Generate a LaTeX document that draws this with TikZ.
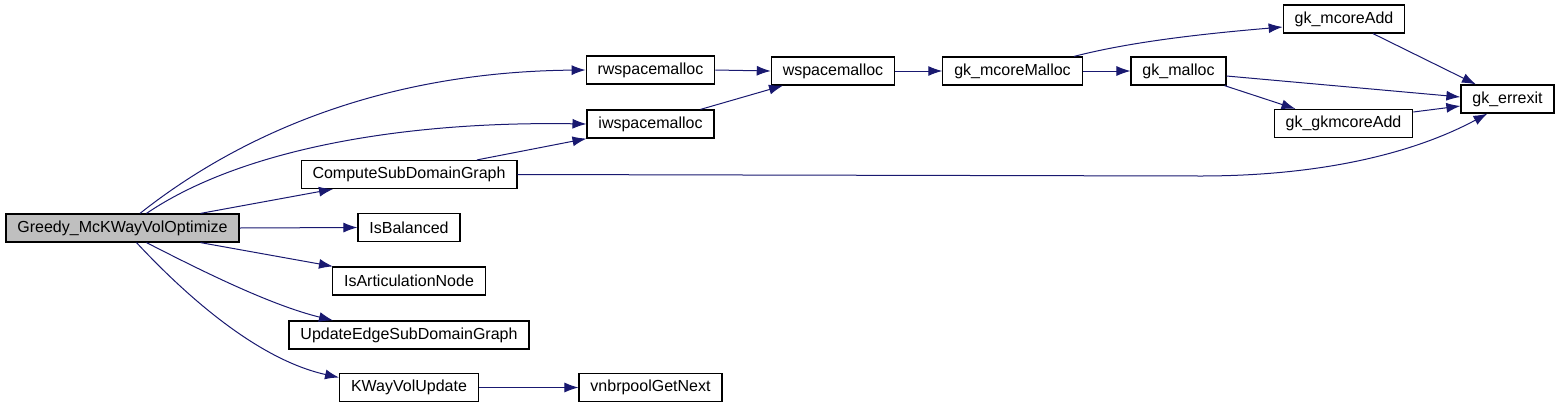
\documentclass[tikz,border=0pt]{standalone}
\usepackage{fontspec}
\setmainfont{Liberation Sans}
\usetikzlibrary{positioning,shapes,arrows.meta}
\definecolor{callblue}{RGB}{25,25,112}
\definecolor{rootgray}{RGB}{191,191,191}
\tikzstyle{func}=[draw,rectangle,line width=0.6pt,fill=white,minimum height=14pt,inner xsep=5.7pt,inner ysep=0pt,font=\fontsize{8}{9.6}\selectfont]
\tikzstyle{call}=[->,draw=callblue,line width=0.5pt]
\newcommand{\newFunc}[4]{\node[func,#3](#1) at (#4) {#2};}
\newcommand{\newCall}[3]{\draw[call] (#1) #3 (#2);}

\begin{document}
\begin{tikzpicture}[x=0.5pt,y=-0.5pt,
      >={Latex[length=7pt,width=5pt]}
      ]
      \useasboundingbox (0,0) rectangle (1560,408);
      % root and callees
      \newFunc{greedy}{Greedy\_McKWayVolOptimize}{fill=rootgray}{122.5,228}
      \newFunc{rws}{rwspacemalloc}{}{650.5,70}
      \newFunc{iws}{iwspacemalloc}{}{650.5,124}
      \newFunc{csdg}{ComputeSubDomainGraph}{}{409,174.5}
      \newFunc{isbal}{IsBalanced}{}{409,227.5}
      \newFunc{isart}{IsArticulationNode}{}{409,281}
      \newFunc{upd}{UpdateEdgeSubDomainGraph}{}{409,335}
      \newFunc{kway}{KWayVolUpdate}{}{409,387.5}
      \newFunc{vnbr}{vnbrpoolGetNext}{}{650.5,387.5}
      \newFunc{wsp}{wspacemalloc}{}{833,71}
      \newFunc{mcm}{gk\_mcoreMalloc}{}{1012.5,71}
      \newFunc{gkm}{gk\_malloc}{}{1178.5,71}
      \newFunc{mca}{gk\_mcoreAdd}{}{1344,19}
      \newFunc{err}{gk\_errexit}{}{1507.5,99}
      \newFunc{gkmca}{gk\_gkmcoreAdd}{}{1343.5,123.5}

      \newCall{[xshift=8.75pt]greedy.north}{rws.west}{.. controls (220,150) and (360,72) ..}
      \newCall{[xshift=12pt]greedy.north}{iws.west}{.. controls (240,150) and (400,121) ..}
      \newCall{[xshift=39pt]greedy.north}{[xshift=-38pt]csdg.south}{--}
      \newCall{greedy.east}{isbal.west}{--}
      \newCall{[xshift=39pt]greedy.south}{[xshift=-38pt]isart.north}{--}
      \newCall{[xshift=12pt]greedy.south}{[xshift=-38pt]upd.north}{.. controls (200,270) and (270,305) ..}
      \newCall{[xshift=7pt]greedy.south}{[yshift=5pt]kway.west}{.. controls (190,300) and (260,360) ..}
      \newCall{[xshift=34pt]csdg.north}{iws.south west}{--}
      \newCall{csdg.east}{[xshift=-10pt]err.south}{-- (1200,176) .. controls (1330,176) and (1420,150) ..}
      \newCall{rws.east}{wsp.west}{--}
      \newCall{[xshift=25pt]iws.north}{[xshift=-25pt]wsp.south}{--}
      \newCall{wsp.east}{mcm.west}{--}
      \newCall{[xshift=30.75pt]mcm.north}{[yshift=-4pt]mca.west}{.. controls (1130,42) and (1200,34) ..}
      \newCall{mcm.east}{gkm.west}{--}
      \newCall{[yshift=-2.5pt]gkm.east}{[yshift=1pt]err.west}{--}
      \newCall{[xshift=23pt]gkm.south}{[xshift=-24pt]gkmca.north}{--}
      \newCall{[xshift=14.5pt]mca.south}{[xshift=-15.75pt]err.north}{--}
      \newCall{[yshift=5.75pt]gkmca.east}{[yshift=-3.5pt]err.west}{--}
      \newCall{kway.east}{vnbr.west}{--}
    \end{tikzpicture}
\end{document}
